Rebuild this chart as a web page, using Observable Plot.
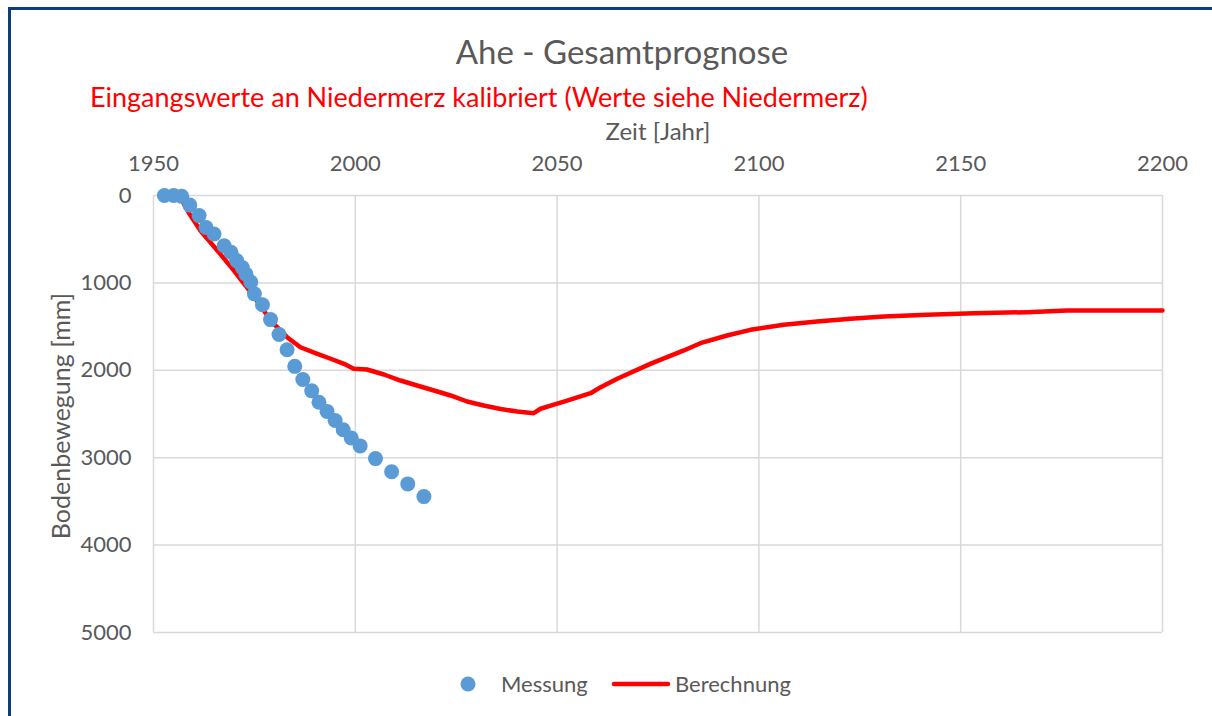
<!DOCTYPE html>
<html><head><meta charset="utf-8">
<script src="https://cdn.jsdelivr.net/npm/d3@7"></script>
<script src="https://cdn.jsdelivr.net/npm/@observablehq/plot@0.6"></script>
<style>
body{margin:0;background:#fff;font-family:Lato,sans-serif;}
#wrap{position:relative;width:1212px;height:716px;overflow:hidden;background:#fff}
#frame{position:absolute;left:8px;top:7px;width:1300px;height:800px;border-left:3px solid #0e3d78;border-top:3px solid #0e3d78;box-sizing:border-box}
#title{position:absolute;top:35px;left:0;width:1244px;text-align:center;font-size:33px;line-height:1;color:#595959}
#subtitle{position:absolute;top:83px;left:90px;font-size:27px;line-height:1;color:#ff0000;white-space:nowrap}
#chart{position:absolute;left:0;top:110px}
.leg{position:absolute;font-size:22px;line-height:1;color:#595959;white-space:nowrap}
</style></head>
<body>
<div id="wrap">
  <div id="frame"></div>
  <div id="title">Ahe - Gesamtprognose</div>
  <div id="subtitle">Eingangswerte an Niedermerz kalibriert (Werte siehe Niedermerz)</div>
  <div id="chart"></div>
  <div id="legend"></div>
</div>
<script>
const xTicks = [1950, 2000, 2050, 2100, 2150, 2200];
const yTicks = [0, 1000, 2000, 3000, 4000, 5000];
const xLabel = "Zeit [Jahr]";
const yLabel = "Bodenbewegung [mm]";
const seriesNames = ["Messung", "Berechnung"];
const seriesColors = ["#5b9bd5", "#ff0000"];

const messYear = [1952.7,1955,1957,1959,1961.3,1963,1965,1967.5,1969.2,1970.6,1972,1972.9,1974.1,1975,1977,1979,1981.1,1983.1,1985,1987,1989.2,1991,1993,1995,1997,1999,2001.2,2005,2009,2013,2017];
const messValue = [0,0,10,110,230,365,440,575,650,745,825,900,990,1125,1250,1420,1590,1765,1955,2105,2235,2365,2470,2575,2680,2775,2865,3010,3160,3300,3445];

const calcYear = [1955,1957,1958.7,1961.6,1965.4,1969.1,1972.8,1976.5,1979,1983.1,1986.4,1990.6,1993.9,1997.2,1999.6,2002.9,2007.1,2011.2,2015.3,2019.5,2023.6,2027.7,2031.8,2036,2040.1,2044.2,2045.9,2048.4,2052.5,2058.3,2060.8,2064.9,2073.1,2081.4,2085.5,2092.1,2097.9,2106.2,2114.4,2122.7,2131,2141.7,2153.3,2166.5,2176.4,2191.7,2200];
const calcValue = [0,50,195,400,606,812,1030,1259,1430,1621,1736,1811,1868,1926,1983,1991,2048,2117,2174,2231,2288,2357,2403,2443,2471,2491,2440,2403,2346,2262,2193,2097,1926,1773,1690,1602,1537,1479,1442,1411,1384,1365,1347,1335,1316,1316,1316];

const mess = messYear.map((x, i) => ({x, y: messValue[i]}));
const calc = calcYear.map((x, i) => ({x, y: calcValue[i]}));

const chart = Plot.plot({
  width: 1212, height: 560,
  marginTop: 85, marginBottom: 38, marginLeft: 153, marginRight: 50,
  style: {fontFamily: "Lato, sans-serif", fontSize: "22px", color: "#595959", background: "transparent", overflow: "visible"},
  x: {domain: [1950, 2200]},
  y: {domain: [0, 5000], reverse: true},
  marks: [
    Plot.gridX(xTicks, {stroke: "#d9d9d9", strokeOpacity: 1, strokeWidth: 1.5}),
    Plot.gridY(yTicks, {stroke: "#d9d9d9", strokeOpacity: 1, strokeWidth: 1.5}),
    Plot.axisX(xTicks, {anchor: "top", tickSize: 0, tickPadding: 25, tickFormat: d => String(d), label: null, fill: "#595959", fontSize: 22}),
    Plot.axisY(yTicks, {anchor: "left", tickSize: 0, tickPadding: 22, tickFormat: d => String(d), label: null, fill: "#595959", fontSize: 22}),
    Plot.text([xLabel], {frameAnchor: "top", dy: -73, text: d => d, fill: "#595959", fontSize: 24, textAnchor: "middle"}),
    Plot.text([yLabel], {frameAnchor: "left", dx: -92, dy: 2, rotate: -90, text: d => d, fill: "#595959", fontSize: 25, textAnchor: "middle"}),
    Plot.line(calc, {x: "x", y: "y", stroke: seriesColors[1], strokeWidth: 4.5}),
    Plot.dot(mess, {x: "x", y: "y", r: 7.5, fill: seriesColors[0], stroke: "none"})
  ]
});
document.getElementById("chart").appendChild(chart);

// legend
const legend = document.getElementById("legend");
legend.innerHTML = `
<svg style="position:absolute;left:455px;top:672px" width="230" height="24">
  <circle cx="13" cy="12" r="7.5" fill="${seriesColors[0]}"></circle>
  <line x1="159" y1="12" x2="213" y2="12" stroke="${seriesColors[1]}" stroke-width="4.5" stroke-linecap="round"></line>
</svg>
<div class="leg" style="left:501px;top:673px">${seriesNames[0]}</div>
<div class="leg" style="left:675px;top:673px">${seriesNames[1]}</div>`;
</script>
</body></html>
